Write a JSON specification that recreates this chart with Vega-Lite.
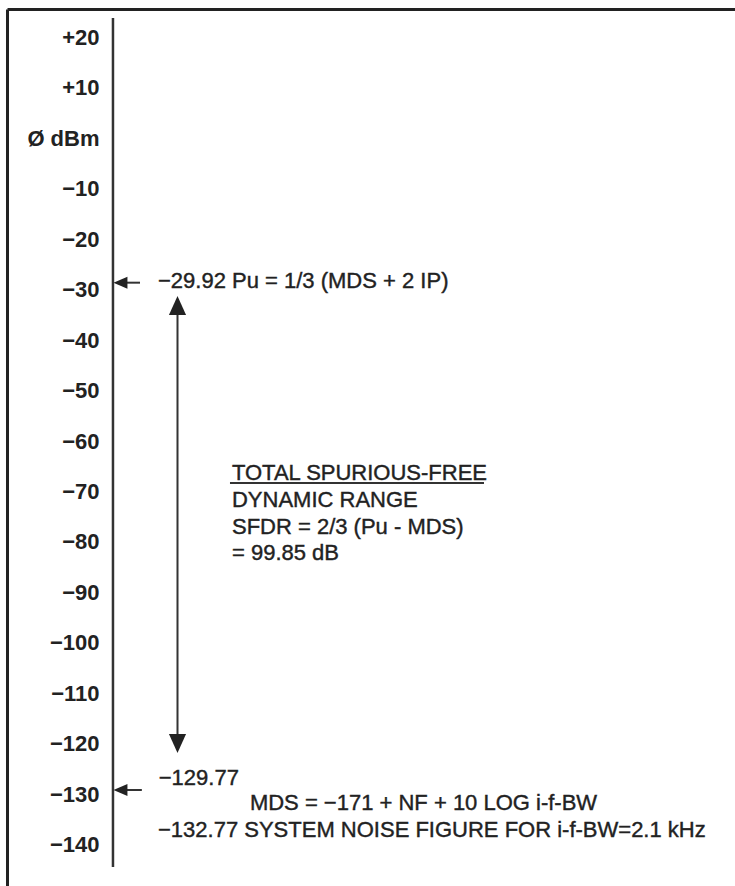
{
  "$schema": "https://vega.github.io/schema/vega-lite/v6.json",
  "width": 735,
  "height": 886,
  "padding": 0,
  "autosize": {"type": "none"},
  "background": "white",
  "config": {"view": {"stroke": null}, "font": "Liberation Sans"},
  "datasets": {
    "frame": [
      {"x": 1.02, "y": 25.49, "x2": 1.02, "y2": -148.15},
      {"x": 1.02, "y": 25.49, "x2": 100, "y2": 25.49}
    ],
    "axisline": [
      {"x": 15.37, "y": 23.8, "x2": 15.37, "y2": -144.38}
    ],
    "segments": [
      {"x": 17.0, "y": -28.63, "x2": 19.05, "y2": -28.63},
      {"x": 17.0, "y": -129.13, "x2": 19.3, "y2": -129.13},
      {"x": 24.15, "y": -33.5, "x2": 24.15, "y2": -119.5},
      {"x": 31.29, "y": -68.31, "x2": 65.85, "y2": -68.31}
    ],
    "smallHeads": [
      {"x": 16.39, "y": -28.63},
      {"x": 16.39, "y": -129.13}
    ],
    "bigHeads": [
      {"dir": "up", "x": 24.15, "y": -33.15},
      {"dir": "down", "x": 24.15, "y": -119.92}
    ],
    "texts": [
      {"label": "−29.92 Pu = 1/3 (MDS + 2 IP)", "x": 21.5, "y": -28.3},
      {"label": "TOTAL SPURIOUS-FREE", "x": 31.56, "y": -66.33},
      {"label": "DYNAMIC RANGE", "x": 31.56, "y": -71.68},
      {"label": "SFDR = 2/3 (Pu - MDS)", "x": 31.56, "y": -77.03},
      {"label": "= 99.85 dB", "x": 31.56, "y": -82.18},
      {"label": "−129.77", "x": 21.6, "y": -126.75},
      {"label": "MDS = −171 + NF + 10 LOG i-f-BW", "x": 34.0, "y": -131.7},
      {"label": "−132.77 SYSTEM NOISE FIGURE FOR i-f-BW=2.1 kHz", "x": 21.5, "y": -137.05}
    ]
  },
  "encoding": {
    "x": {"field": "x", "type": "quantitative", "scale": {"domain": [0, 100], "nice": false, "zero": false}, "axis": null},
    "y": {
      "field": "y",
      "type": "quantitative",
      "scale": {"domain": [-148.15, 27.37], "nice": false, "zero": false},
      "axis": {
        "orient": "left",
        "offset": -99,
        "values": [20, 10, 0, -10, -20, -30, -40, -50, -60, -70, -80, -90, -100, -110, -120, -130, -140],
        "labelExpr": "datum.value > 0 ? '+' + datum.value : (datum.value == 0 ? 'Ø dBm' : '−' + abs(datum.value))",
        "domain": false,
        "ticks": false,
        "tickSize": 0,
        "grid": false,
        "labelPadding": 0,
        "labelFont": "Liberation Sans",
        "labelFontSize": 22,
        "labelFontWeight": "bold",
        "labelColor": "#222222",
        "labelBaseline": "middle",
        "labelAlign": "right",
        "labelOverlap": false,
        "labelBound": false,
        "title": null
      }
    }
  },
  "layer": [
    {
      "data": {"name": "frame"},
      "mark": {"type": "rule", "stroke": "#222222", "strokeWidth": 3},
      "encoding": {"x2": {"field": "x2"}, "y2": {"field": "y2"}}
    },
    {
      "data": {"name": "axisline"},
      "mark": {"type": "rule", "stroke": "#333333", "strokeWidth": 2.5},
      "encoding": {"x2": {"field": "x2"}, "y2": {"field": "y2"}}
    },
    {
      "data": {"name": "segments"},
      "mark": {"type": "rule", "stroke": "#333333", "strokeWidth": 2},
      "encoding": {"x2": {"field": "x2"}, "y2": {"field": "y2"}}
    },
    {
      "data": {"name": "smallHeads"},
      "mark": {"type": "point", "filled": true, "shape": "M-1,0L1,-0.85L1,0.85Z", "size": 196, "color": "#222222", "opacity": 1}
    },
    {
      "data": {"name": "bigHeads"},
      "mark": {"type": "point", "filled": true, "size": 361, "color": "#222222", "opacity": 1},
      "encoding": {
        "shape": {"field": "dir", "type": "nominal", "scale": {"domain": ["up", "down"], "range": ["M0,-1L0.9,1L-0.9,1Z", "M-0.9,-1L0.9,-1L0,1Z"]}, "legend": null}
      }
    },
    {
      "data": {"name": "texts"},
      "mark": {"type": "text", "align": "left", "baseline": "middle", "font": "Liberation Sans", "fontSize": 22, "color": "#222222", "stroke": "#222222", "strokeWidth": 0.4},
      "encoding": {"text": {"field": "label", "type": "nominal"}}
    }
  ]
}
